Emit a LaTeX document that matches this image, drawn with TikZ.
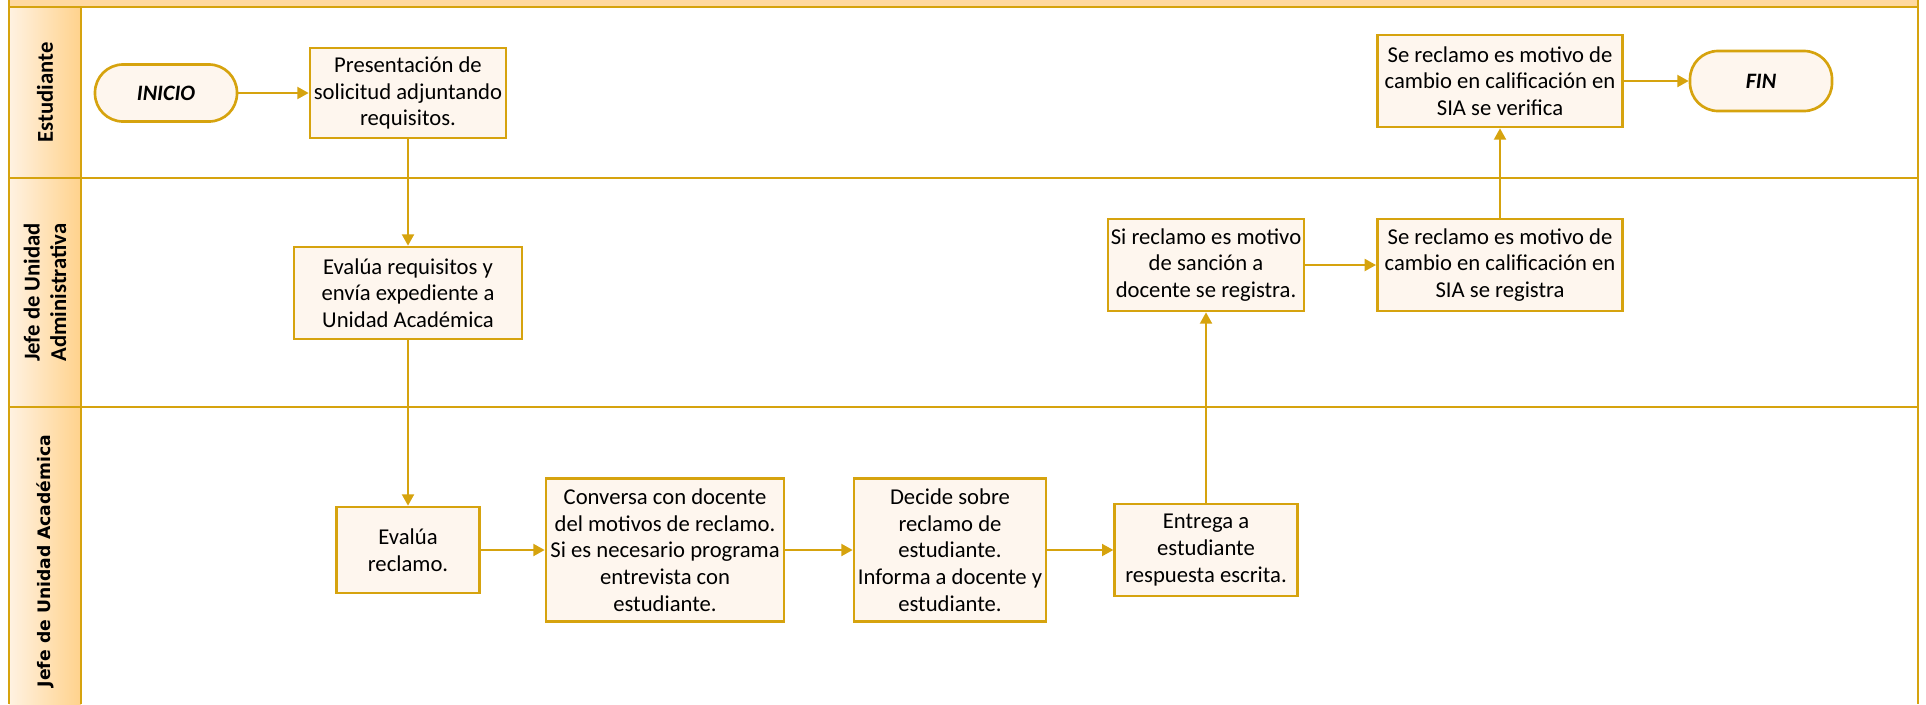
\documentclass[tikz,border=0pt]{standalone}
\usepackage{fontspec}
\setmainfont{Carlito}
\newfontfamily\lanefont{DejaVu Sans}
\usetikzlibrary{arrows.meta}

\definecolor{gold}{RGB}{214,163,14}
\definecolor{cream}{RGB}{254,246,238}
\definecolor{band}{RGB}{255,217,160}
\definecolor{headlight}{RGB}{255,242,226}
\definecolor{headdark}{RGB}{255,210,140}

\tikzset{
  proc/.style={draw=gold, line width=2pt, fill=cream, align=center, inner sep=1pt,
    font=\fontsize{17}{20}\selectfont},
  term/.style={proc, rounded corners=21pt, font=\fontsize{16.5}{20}\selectfont\bfseries\itshape},
  flow/.style={draw=gold, line width=1.5pt, -{Triangle[length=8.5pt,width=9pt]}},
  lane/.style={draw=gold, line width=2.2pt},
  lanetitle/.style={rotate=90, align=center, font=\fontsize{17}{20}\selectfont\bfseries},
}

\begin{document}
\begin{tikzpicture}[x=0.75pt,y=0.75pt,yscale=-1,xscale=1]
            \useasboundingbox (0,0) rectangle (1926,704);

            %Shape: Band
            \fill [band] (9,0) rectangle (1918,7);
            %Shape: Lane headers
            \shade [left color=headlight, right color=headdark] (9,7) rectangle (81,704);
            %Straight Lines
            \draw [lane] (9,0) -- (9,704) ;
            \draw [lane] (81,7) -- (81,704) ;
            \draw [lane] (1918,0) -- (1918,704) ;
            \draw [lane] (9,7) -- (1918,7) ;
            \draw [lane] (9,178) -- (1918,178) ;
            \draw [lane] (9,407) -- (1918,407) ;

            % Text Node
            \node (lest) at (45,92.5) [lanetitle] {Estudiante};
            % Text Node
            \node (ladm) at (45,292.5) [lanetitle] {Jefe de Unidad\\Administrativa};
            % Text Node
            \node (laca) at (45,561) [lanetitle, font=\lanefont\fontsize{12.9}{16}\selectfont\bfseries] {Jefe de Unidad Académica};

            % Estudiante
            \node (inicio) at (166,93) [term, minimum width=106.5pt, minimum height=42.75pt] {INICIO};
            \node (pres) at (408,93) [proc, minimum width=147pt, minimum height=67.5pt] {Presentación de\\solicitud adjuntando\\requisitos.};
            \node (verif) at (1500,81) [proc, minimum width=184pt, minimum height=69pt] {Se reclamo es motivo de\\cambio en calificación en\\SIA se verifica};
            \node (fin) at (1761,81) [term, minimum width=106.5pt, minimum height=45pt] {FIN};

            % Jefe de Unidad Administrativa
            \node (evreq) at (408,293) [proc, minimum width=171pt, minimum height=69pt] {Evalúa requisitos y\\envía expediente a\\Unidad Académica};
            \node (sanc) at (1206,265) [proc, minimum width=147pt, minimum height=69pt] {Si reclamo es motivo\\de sanción a\\docente se registra.};
            \node (regis) at (1500,265) [proc, minimum width=184pt, minimum height=69pt] {Se reclamo es motivo de\\cambio en calificación en\\SIA se registra};

            % Jefe de Unidad Academica
            \node (evrec) at (408,550) [proc, minimum width=107pt, minimum height=64.5pt] {Evalúa\\reclamo.};
            \node (conv) at (665,550) [proc, minimum width=178.5pt, minimum height=107pt] {Conversa con docente\\del motivos de reclamo.\\Si es necesario programa\\entrevista con\\estudiante.};
            \node (decide) at (950,550) [proc, minimum width=144pt, minimum height=107pt] {Decide sobre\\reclamo de\\estudiante.\\Informa a docente y\\estudiante.};
            \node (entrega) at (1206,550) [proc, minimum width=137pt, minimum height=69pt] {Entrega a\\estudiante\\respuesta escrita.};

            %Straight Lines
            \draw [flow] (inicio) -- (pres);
            \draw [flow] (pres) -- (evreq);
            \draw [flow] (evreq) -- (evrec);
            \draw [flow] (evrec) -- (conv);
            \draw [flow] (conv) -- (decide);
            \draw [flow] (decide) -- (entrega);
            \draw [flow] (entrega) -- (sanc);
            \draw [flow] (sanc) -- (regis);
            \draw [flow] (regis) -- (verif);
            \draw [flow] (verif) -- (fin);

        \end{tikzpicture}
\end{document}
